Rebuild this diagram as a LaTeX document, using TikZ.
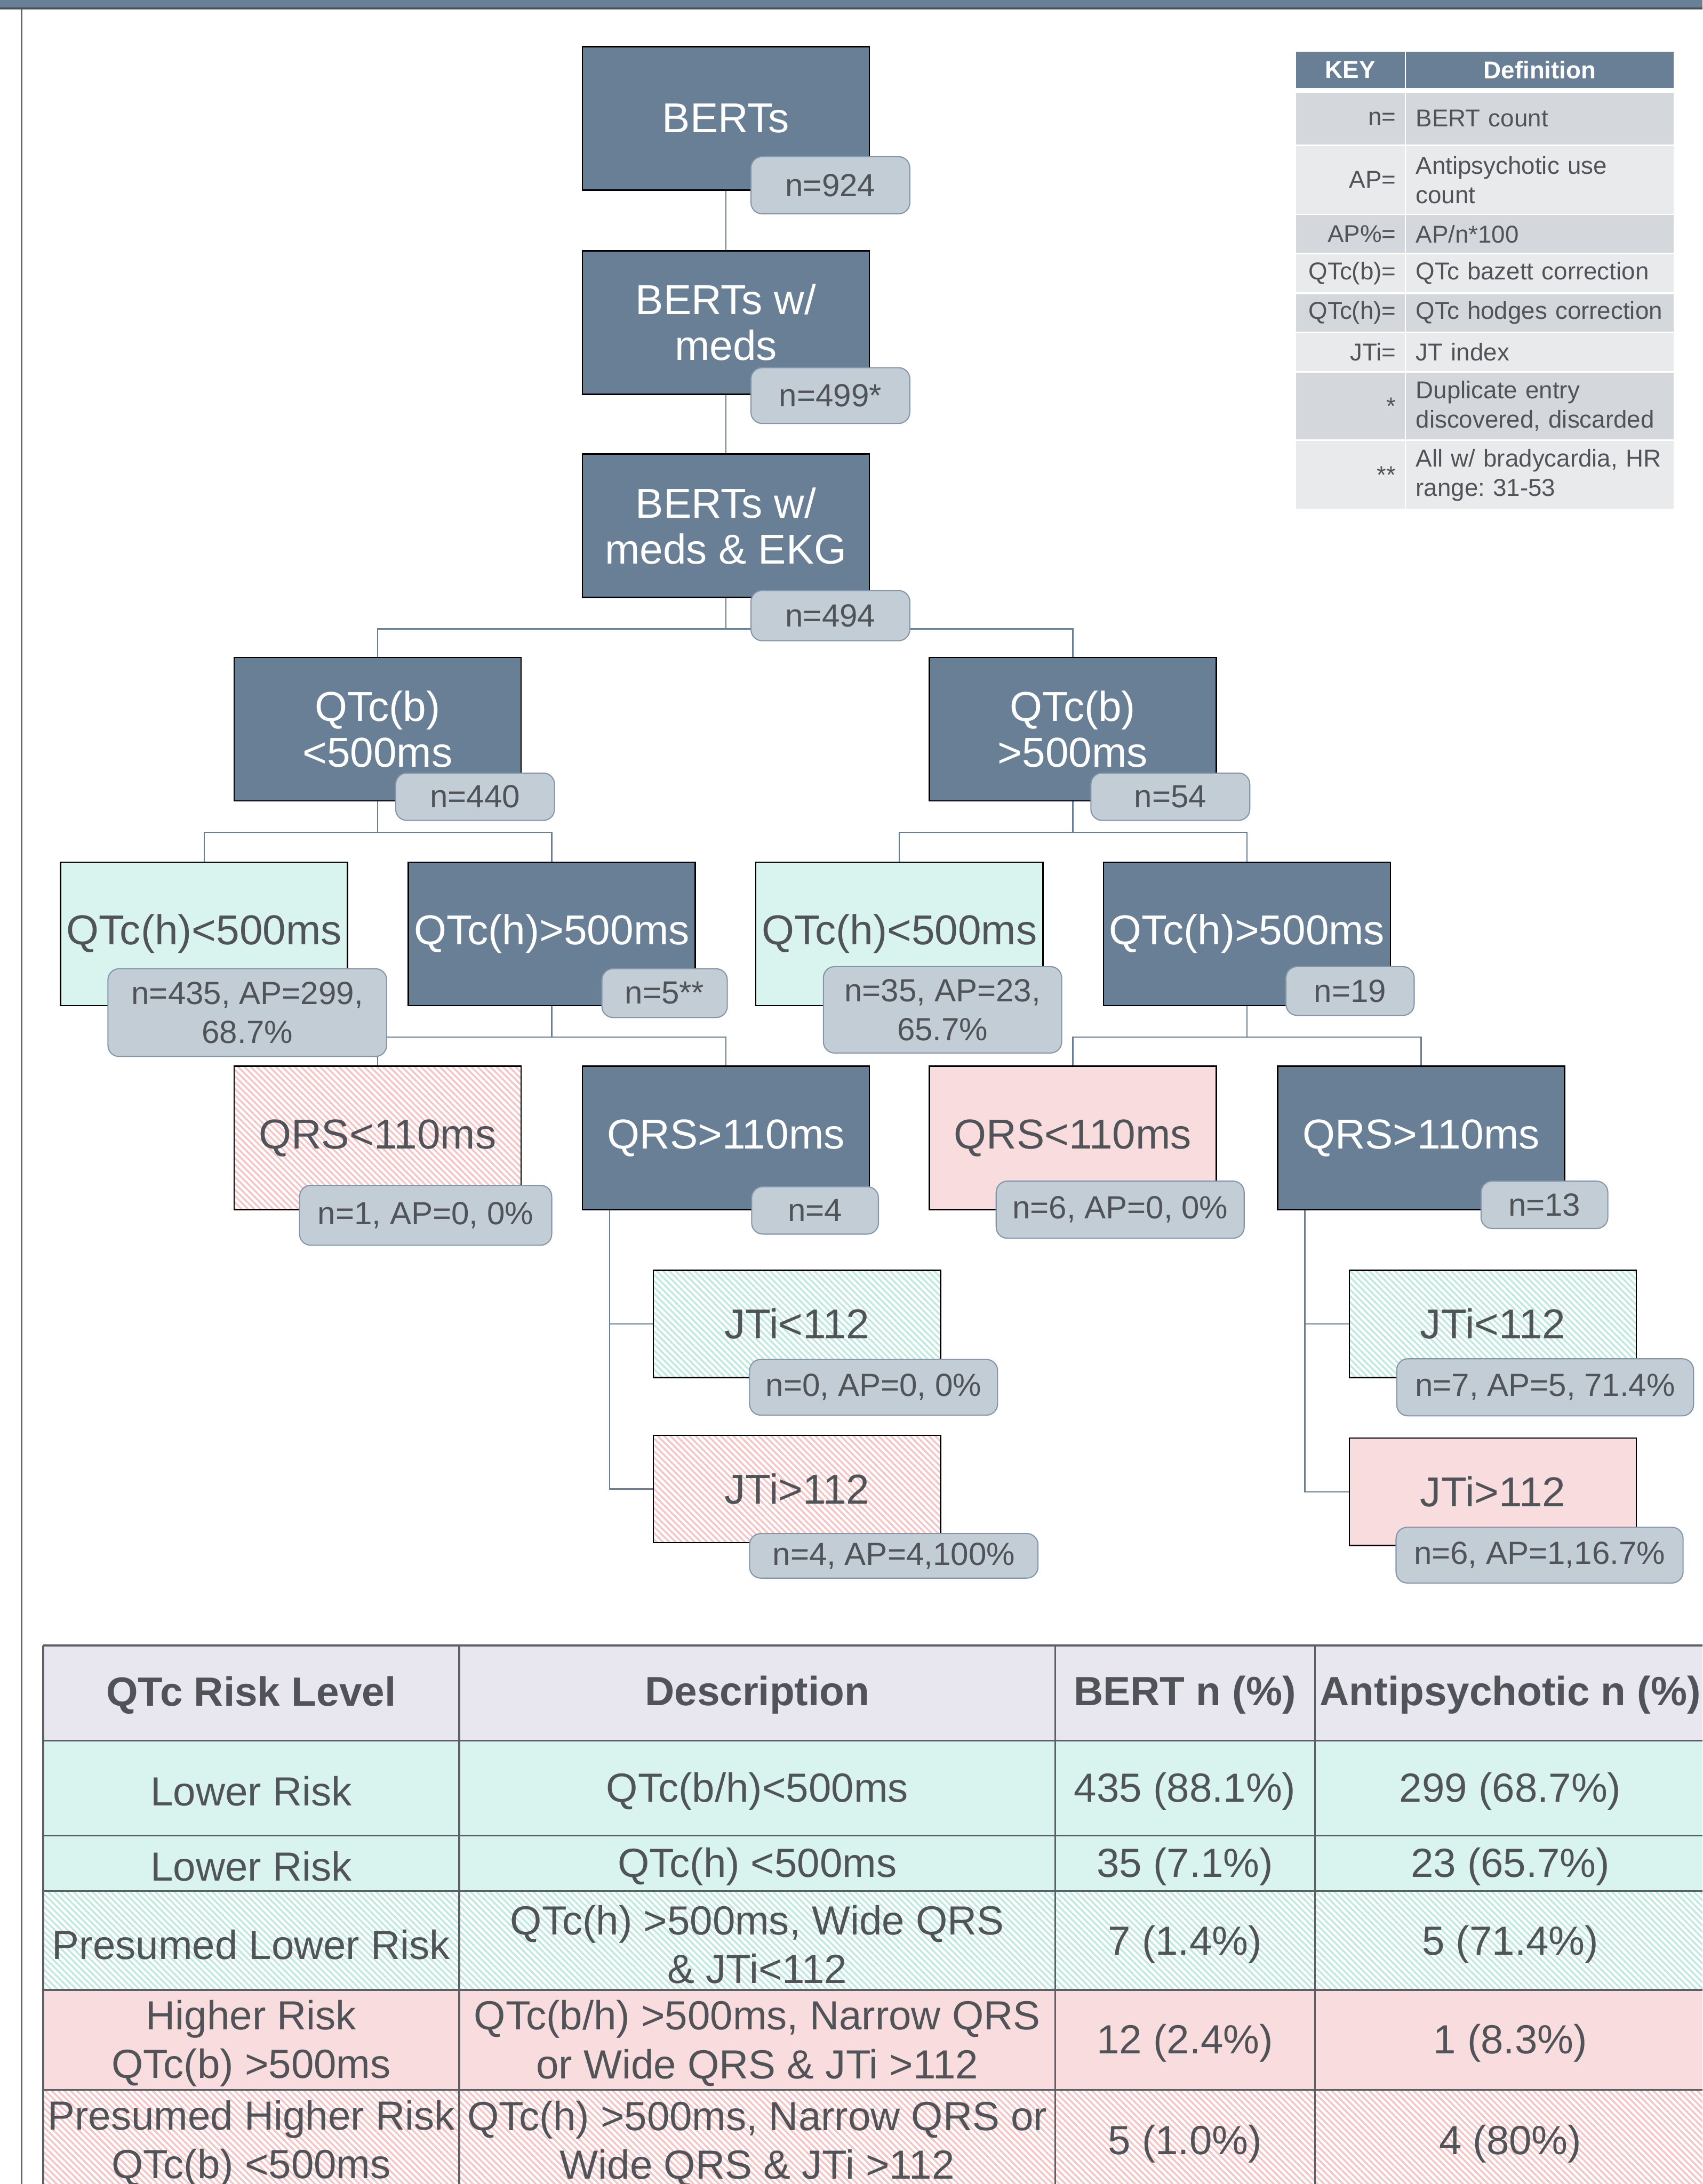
\documentclass[tikz,border=0pt]{standalone}
\usepackage{fontspec}
\setmainfont{Liberation Sans}
\usetikzlibrary{patterns.meta,calc}
\definecolor{slate}{HTML}{687F96}
\definecolor{badgefill}{HTML}{C3CDD6}
\definecolor{badgeedge}{HTML}{8396AA}
\definecolor{mint}{HTML}{D9F3EF}
\definecolor{pinkfill}{HTML}{F9DCDD}
\definecolor{mintstripe}{HTML}{BFE9DF}
\definecolor{pinkstripe}{HTML}{F6C4C4}
\definecolor{txt}{HTML}{505458}
\definecolor{kdark}{HTML}{D4D7DC}
\definecolor{klight}{HTML}{E9EAEC}
\definecolor{thead}{HTML}{E8E6EE}
\definecolor{grid}{HTML}{5C6066}
\definecolor{bandline}{HTML}{4C5157}
\newcommand{\boxfont}{\fontsize{30}{33}\selectfont}
\newcommand{\badgefont}{\fontsize{23}{28}\selectfont}
\newcommand{\keyfont}{\fontsize{17.5}{21}\selectfont}
\newcommand{\tabfont}{\fontsize{29.2}{35}\selectfont}
\frenchspacing
\begin{document}
\begin{tikzpicture}[x=1pt,y=-1pt,
  box/.style={draw=black, line width=1pt, minimum width=206pt, minimum height=103pt, inner sep=0pt, align=center, font=\boxfont},
  slatebox/.style={box, fill=slate, text=white},
  mintbox/.style={box, fill=mint, text=txt},
  pinkbox/.style={box, fill=pinkfill, text=txt},
  minthatch/.style={box, text=txt, preaction={fill=white}, pattern={Lines[angle=-45,distance=3.2pt,line width=1.3pt]}, pattern color=mintstripe},
  pinkhatch/.style={box, text=txt, preaction={fill=white}, pattern={Lines[angle=-45,distance=3.2pt,line width=1.3pt]}, pattern color=pinkstripe},
  badge/.style={draw=badgeedge, line width=0.8pt, fill=badgefill, rounded corners=8pt, inner sep=0pt, align=center, text=txt, font=\badgefont},
  conn/.style={draw=slate, line width=0.9pt},
  kk/.style={anchor=north west, minimum width=78pt, text width=65.5pt, inner xsep=6.2pt, inner ysep=0pt, align=right, font=\keyfont, text=txt},
  kd/.style={anchor=north west, minimum width=192pt, text width=178pt, inner xsep=7pt, inner ysep=0pt, align=left, font=\keyfont, text=txt},
  tcell/.style={align=center, text=txt, font=\tabfont, inner sep=0pt},
  thcell/.style={align=center, text=txt, font=\bfseries\fontsize{29.3}{35}\selectfont, inner sep=0pt}
]
\useasboundingbox (0,0) rectangle (1222,1568);
\clip (0,0) rectangle (1222,1568);
\fill[white] (0,0) rectangle (1222,1568);

% top band and left rule
\fill[slate] (0,0) rectangle (1222,5.5);
\fill[bandline] (0,5.5) rectangle (1222,6.7);
\fill[gray!60] (0,6.7) rectangle (1222,7.3);
\draw[gray!80!black, line width=1pt] (15.5,6.7) -- (15.5,1568);

% ---------- flow chart nodes ----------
\node[slatebox] (berts) at (521,85) {BERTs};
\node[slatebox] (meds) at (521,231.5) {BERTs w/\\meds};
\node[slatebox] (ekg) at (521,377.5) {BERTs w/\\meds \& EKG};
\node[slatebox] (qbl) at (271,523.5) {QTc(b)\\<500ms};
\node[slatebox] (qbh) at (770,523.5) {QTc(b)\\>500ms};
\node[mintbox] (qhl1) at (146.5,670.5) {QTc(h)<500ms};
\node[slatebox] (qhh1) at (396,670.5) {QTc(h)>500ms};
\node[mintbox] (qhl2) at (645.5,670.5) {QTc(h)<500ms};
\node[slatebox] (qhh2) at (895,670.5) {QTc(h)>500ms};
\node[pinkhatch] (qrsn1) at (271,817) {QRS<110ms};
\node[slatebox] (qrsw1) at (521,817) {QRS>110ms};
\node[pinkbox] (qrsn2) at (770,817) {QRS<110ms};
\node[slatebox] (qrsw2) at (1020,817) {QRS>110ms};
\node[minthatch, minimum height=77pt] (jtl1) at (572,950.5) {JTi<112};
\node[pinkhatch, minimum height=77pt] (jth1) at (572,1069) {JTi>112};
\node[minthatch, minimum height=77pt] (jtl2) at (1071.5,950.5) {JTi<112};
\node[pinkbox, minimum height=77pt] (jth2) at (1071.5,1071) {JTi>112};

% ---------- connectors ----------
\path[conn] (berts.south) -- (meds.north);
\path[conn] (meds.south) -- (ekg.north);
\path[conn] (ekg.south) -- ++(0,22) -| (qbl.north);
\path[conn] (ekg.south) -- ++(0,22) -| (qbh.north);
\path[conn] (qbl.south) -- ++(0,22) -| (qhl1.north);
\path[conn] (qbl.south) -- ++(0,22) -| (qhh1.north);
\path[conn] (qbh.south) -- ++(0,22) -| (qhl2.north);
\path[conn] (qbh.south) -- ++(0,22) -| (qhh2.north);
\path[conn] (qhh1.south) -- ++(0,22) -| (qrsn1.north);
\path[conn] (qhh1.south) -- ++(0,22) -| (qrsw1.north);
\path[conn] (qhh2.south) -- ++(0,22) -| (qrsn2.north);
\path[conn] (qhh2.south) -- ++(0,22) -| (qrsw2.north);
\path[conn] ([xshift=20pt]qrsw1.south west) |- (jtl1.west);
\path[conn] ([xshift=20pt]qrsw1.south west) |- (jth1.west);
\path[conn] ([xshift=20pt]qrsw2.south west) |- (jtl2.west);
\path[conn] ([xshift=20pt]qrsw2.south west) |- (jth2.west);

% ---------- badges ----------
\node[badge, minimum width=114pt, minimum height=41pt] (b1) at (596,133) {n=924};
\node[badge, minimum width=114pt, minimum height=40pt] (b2) at (596,284) {n=499*};
\node[badge, minimum width=114pt, minimum height=36pt] (b3) at (596,442) {n=494};
\node[badge, minimum width=114pt, minimum height=34pt] (b4) at (341,572) {n=440};
\node[badge, minimum width=114pt, minimum height=34pt] (b5) at (840,572) {n=54};
\node[badge, minimum width=200pt, minimum height=63pt] (b6) at (177.5,727) {n=435, AP=299,\\68.7\%};
\node[badge, minimum width=90pt, minimum height=35pt] (b7) at (477,713) {n=5**};
\node[badge, minimum width=171pt, minimum height=62pt] (b8) at (676.5,725) {n=35, AP=23,\\65.7\%};
\node[badge, minimum width=92pt, minimum height=35pt] (b9) at (969,711.5) {n=19};
\node[badge, minimum width=181pt, minimum height=43pt] (b10) at (305.5,872.5) {n=1, AP=0, 0\%};
\node[badge, minimum width=91pt, minimum height=34pt] (b11) at (585,869) {n=4};
\node[badge, minimum width=178pt, minimum height=41pt] (b12) at (804,868.5) {n=6, AP=0, 0\%};
\node[badge, minimum width=91pt, minimum height=34pt] (b13) at (1108.5,865) {n=13};
\node[badge, minimum width=178pt, minimum height=40pt] (b14) at (627,996) {n=0, AP=0, 0\%};
\node[badge, minimum width=207pt, minimum height=32pt] (b15) at (641.5,1117) {n=4, AP=4,100\%};
\node[badge, minimum width=213pt, minimum height=41pt] (b16) at (1109,996) {n=7, AP=5, 71.4\%};
\node[badge, minimum width=206pt, minimum height=40pt] (b17) at (1105,1116.5) {n=6, AP=1,16.7\%};

% ---------- key table ----------
\node[kk, fill=slate, minimum height=26pt, align=center, text=white, font=\bfseries\keyfont] (kh1) at (930,37) {KEY};
\node[kd, fill=slate, minimum height=26pt, align=center, text=white, font=\bfseries\keyfont] (kh2) at (1009,37) {Definition};
\node[kk, fill=kdark, minimum height=37.2pt] (k1) at (930,66.3) {n=};
\node[kd, fill=kdark, minimum height=37.2pt] (d1) at (1009,66.3) {BERT count};
\node[kk, fill=klight, minimum height=48.6pt] (k2) at (930,104.6) {AP=};
\node[kd, fill=klight, minimum height=48.6pt] (d2) at (1009,104.6) {Antipsychotic use\\count};
\node[kk, fill=kdark, minimum height=27.2pt] (k3) at (930,154.2) {AP\%=};
\node[kd, fill=kdark, minimum height=27.2pt] (d3) at (1009,154.2) {AP/n*100};
\node[kk, fill=klight, minimum height=27.3pt] (k4) at (930,182.3) {QTc(b)=};
\node[kd, fill=klight, minimum height=27.3pt] (d4) at (1009,182.3) {QTc bazett correction};
\node[kk, fill=kdark, minimum height=26.9pt] (k5) at (930,211) {QTc(h)=};
\node[kd, fill=kdark, minimum height=26.9pt] (d5) at (1009,211) {QTc hodges correction};
\node[kk, fill=klight, minimum height=27.2pt] (k6) at (930,239) {JTi=};
\node[kd, fill=klight, minimum height=27.2pt] (d6) at (1009,239) {JT index};
\node[kk, fill=kdark, minimum height=48.1pt] (k7) at (930,267.3) {*};
\node[kd, fill=kdark, minimum height=48.1pt] (d7) at (1009,267.3) {Duplicate entry\\discovered, discarded};
\node[kk, fill=klight, minimum height=48.6pt] (k8) at (930,316.5) {**};
\node[kd, fill=klight, minimum height=48.6pt] (d8) at (1009,316.5) {All w/ bradycardia, HR\\range: 31-53};

% ---------- bottom table ----------
\fill[thead] (31,1181.3) rectangle (1226,1249.6);
\fill[mint] (31,1249.6) rectangle (1226,1357.6);
\fill[white] (31,1357.6) rectangle (1226,1428.7);
\fill[pattern={Lines[angle=-45,distance=3.2pt,line width=1.3pt]}, pattern color=mintstripe] (31,1357.6) rectangle (1226,1428.7);
\fill[pinkfill] (31,1428.7) rectangle (1226,1500.5);
\fill[pattern={Lines[angle=-45,distance=3.2pt,line width=1.3pt]}, pattern color=pinkstripe] (31,1500.5) rectangle (1226,1600);
\foreach \yy in {1181.3,1249.6,1317.9,1357.6,1428.7,1500.5}
  \draw[grid, line width=1.3pt] (31,\yy) -- (1226,\yy);
\foreach \xx in {31,329.6,757.3,943.8}
  \draw[grid, line width=1.3pt] (\xx,1181.3) -- (\xx,1600);

\node[thcell] (h1) at (180.3,1217) {QTc Risk Level};
\node[thcell] (h2) at (543.5,1217) {Description};
\node[thcell] (h3) at (850.5,1217) {BERT n (\%)};
\node[thcell] (h4) at (1084,1217) {Antipsychotic n (\%)};

\node[tcell] (r1a) at (180.3,1286) {Lower Risk};
\node[tcell] (r1b) at (543.5,1286) {QTc(b/h)<500ms};
\node[tcell] (r1c) at (850.5,1286) {435 (88.1\%)};
\node[tcell] (r1d) at (1084,1286) {299 (68.7\%)};

\node[tcell] (r2a) at (180.3,1340) {Lower Risk};
\node[tcell] (r2b) at (543.5,1340) {QTc(h) <500ms};
\node[tcell] (r2c) at (850.5,1340) {35 (7.1\%)};
\node[tcell] (r2d) at (1084,1340) {23 (65.7\%)};

\node[tcell] (r3a) at (180.3,1396) {Presumed Lower Risk};
\node[tcell] (r3b) at (543.5,1396) {QTc(h) >500ms, Wide QRS\\\& JTi<112};
\node[tcell] (r3c) at (850.5,1396) {7 (1.4\%)};
\node[tcell] (r3d) at (1084,1396) {5 (71.4\%)};

\node[tcell] (r4a) at (180.3,1467) {Higher Risk\\QTc(b) >500ms};
\node[tcell] (r4b) at (543.5,1467) {QTc(b/h) >500ms, Narrow QRS\\or Wide QRS \& JTi >112};
\node[tcell] (r4c) at (850.5,1467) {12 (2.4\%)};
\node[tcell] (r4d) at (1084,1467) {1 (8.3\%)};

\node[tcell] (r5a) at (180.3,1539) {Presumed Higher Risk\\QTc(b) <500ms};
\node[tcell] (r5b) at (543.5,1539) {QTc(h) >500ms, Narrow QRS or\\Wide QRS \& JTi >112};
\node[tcell] (r5c) at (850.5,1539) {5 (1.0\%)};
\node[tcell] (r5d) at (1084,1539) {4 (80\%)};
\end{tikzpicture}
\end{document}
